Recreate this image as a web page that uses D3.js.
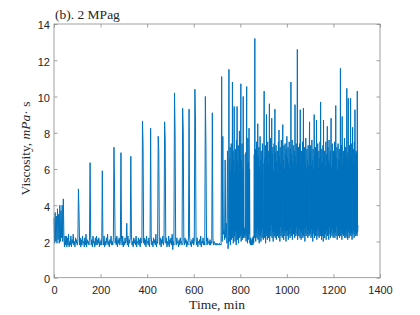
<!DOCTYPE html>
<html>
<head>
<meta charset="utf-8">
<script src="https://cdn.jsdelivr.net/npm/d3@7"></script>
<style>
  body { margin: 0; background: #fff; }
  svg { display: block; }
</style>
</head>
<body>
<script>
// viscosity log
// first part: one sample every 2.5 min from t = 0
var earlyStep = 2.5;
var viscosityEarly = [
  3.3, 1.9, 3.6, 2.0, 3.4, 1.9, 3.8, 2.1, 3.5, 1.9, 4.0, 2.0, 3.7, 2.2, 4.0, 2.0, 4.35, 2.3, 1.7, 2.3,   // 0
  1.8, 2.3, 1.7, 2.2, 1.8, 2.4, 1.7, 2.0, 1.8, 2.3, 1.7, 2.1, 1.9, 2.4, 1.8, 2.0, 1.7, 2.2, 1.9, 2.1,   // 50
  1.8, 2.0, 4.9, 3.6, 1.8, 2.2, 1.7, 2.1, 1.8, 2.3, 1.9, 2.0, 1.7, 2.2, 1.8, 2.4, 1.7, 2.1, 1.9, 2.0,   // 100
  1.8, 2.2, 6.35, 2.3, 1.8, 2.1, 1.7, 2.3, 1.9, 2.0, 1.7, 2.2, 1.8, 2.3, 1.8, 2.1, 1.9, 2.2, 1.7, 2.0,  // 150
  1.8, 2.1, 1.8, 5.9, 2.2, 1.8, 2.3, 1.7, 2.0, 1.8, 2.2, 1.9, 2.4, 1.8, 2.0, 1.7, 2.1, 1.9, 2.3, 1.8,   // 200
  2.0, 1.8, 2.2, 7.2, 5.0, 1.9, 2.2, 1.8, 2.3, 1.7, 2.1, 1.9, 2.2, 1.8, 2.0, 6.9, 2.1, 1.8, 2.3, 1.7,   // 250
  2.0, 1.8, 2.2, 1.9, 2.0, 3.0, 1.8, 2.3, 1.7, 2.1, 1.9, 2.2, 6.7, 2.4, 1.8, 2.0, 1.7, 2.2, 1.9, 2.1,   // 300
  1.8, 2.3, 1.7, 2.0, 1.9, 2.2, 1.8, 2.1, 1.7, 2.2, 1.9, 2.0, 8.65, 7.3, 1.9, 2.2, 1.8, 2.1, 1.7, 2.3,  // 350
  1.9, 2.0, 1.8, 2.2, 1.7, 2.1, 8.25, 2.3, 1.8, 2.0, 1.7, 2.2, 1.9, 2.1, 1.8, 2.4, 1.7, 2.0, 1.9, 7.8,  // 400
  7.0, 2.0, 1.8, 2.2, 1.7, 2.1, 1.9, 2.3, 1.8, 2.0, 8.6, 7.6, 1.9, 2.2, 1.7, 2.0, 1.8, 2.3, 1.7, 2.1,   // 450
  1.9, 2.2, 1.8, 2.4, 1.55, 2.0, 1.8, 10.2, 8.0, 2.1, 1.8, 2.2, 1.9, 2.0, 1.7, 2.1, 1.8, 2.2, 1.9, 2.0, // 500
  1.8, 9.35, 8.1, 2.0, 1.8, 2.2, 1.9, 2.1, 1.7, 2.0, 1.8, 2.2, 9.3, 2.3, 1.8, 2.0, 1.7, 2.1, 1.9, 2.2,  // 550
  1.8, 2.0, 10.4, 8.7, 2.1, 1.8, 2.2, 1.7, 2.0, 1.9, 2.1, 1.8, 2.3, 1.7, 2.0, 1.9, 2.2, 1.8, 2.0, 1.8,  // 600
  10.0, 7.3, 2.0, 1.8, 2.2, 1.9, 2.0, 1.8, 2.1, 1.8, 2.0, 1.9, 9.1, 2.2, 1.8, 2.0, 1.9, 1.8, 1.9, 1.8,  // 650
  1.9, 1.8, 1.85, 1.8, 1.9, 1.8, 1.85, 1.8, 11.1, 2.0, 7.8, 2.4, 2.6, 2.1, 6.5, 2.2, 3.0, 1.9, 7.0, 1.6  // 700
];

// second part: one sample every 1.25 min from t = 750
var lateStart = 750, lateStep = 1.25;
var viscosityLate = [
  2.3, 11.5, 2.0, 6.6, 2.4, 7.2, 1.8, 5.9, 2.6, 7.4, 2.1, 6.3, 2.5, 10.8, 2.2, 7.0, 1.9, 6.5, 2.7, 9.45,
  2.3, 5.8, 2.0, 7.1, 2.6, 6.2, 1.8, 7.6, 2.4, 9.45, 2.1, 6.4, 2.5, 7.3, 1.9, 5.7, 2.6, 8.1, 2.2, 6.6,   // 750
  2.3, 7.0, 10.7, 2.0, 6.5, 2.4, 7.4, 2.1, 6.0, 2.6, 10.0, 2.2, 6.8, 2.5, 2.3, 2.7, 2.2, 2.8, 2.4, 6.9,
  2.0, 7.3, 10.55, 2.3, 6.2, 1.9, 7.7, 2.5, 6.4, 2.1, 8.25, 2.4, 6.0, 1.9, 2.1, 1.8, 2.2, 1.9, 2.0, 1.8, // 800
  2.1, 1.9, 2.2, 1.8, 2.0, 2.3, 1.9, 2.4, 6.8, 2.2, 13.2, 2.6, 7.1, 2.0, 6.4, 2.5, 7.5, 2.2, 5.9, 2.7,
  8.5, 2.1, 6.7, 2.4, 7.2, 1.9, 6.1, 2.6, 7.8, 2.3, 6.5, 2.0, 7.0, 2.5, 5.8, 2.2, 7.4, 2.7, 6.3, 2.1,   // 850
  2.4, 7.1, 10.3, 2.2, 6.6, 2.5, 7.3, 1.9, 6.0, 2.6, 9.0, 2.3, 6.9, 2.1, 7.5, 2.8, 6.2, 2.2, 7.0, 2.4,
  9.6, 2.0, 6.5, 2.6, 7.7, 2.3, 6.1, 2.9, 8.8, 2.2, 6.8, 2.5, 7.2, 2.0, 5.9, 2.6, 7.4, 2.3, 6.6, 9.3,   // 900
  2.2, 6.9, 2.5, 7.3, 2.1, 6.4, 2.7, 7.0, 2.3, 5.8, 2.6, 7.5, 2.2, 8.15, 2.4, 6.7, 2.0, 7.2, 2.8, 6.3,
  2.3, 7.6, 2.5, 6.1, 2.2, 7.0, 8.45, 2.6, 6.5, 2.1, 7.3, 2.7, 6.0, 2.3, 7.4, 2.5, 6.8, 2.0, 7.1, 2.6,  // 950
  7.8, 2.3, 6.6, 2.6, 7.2, 2.1, 6.3, 2.8, 7.5, 2.4, 6.0, 2.2, 7.1, 2.7, 10.8, 2.3, 6.8, 2.5, 7.6, 2.1,
  6.4, 2.9, 7.3, 2.4, 6.1, 2.6, 7.0, 2.2, 9.55, 2.5, 6.7, 2.3, 7.4, 2.8, 6.2, 2.4, 12.6, 2.1, 6.9, 2.6, // 1000
  7.2, 2.3, 6.5, 2.7, 7.4, 2.2, 9.27, 2.5, 6.3, 2.1, 7.0, 2.6, 6.1, 2.4, 7.5, 2.2, 6.6, 9.36, 2.3, 6.9,
  2.7, 7.2, 2.0, 6.4, 2.5, 7.7, 2.3, 6.0, 2.8, 7.1, 2.4, 6.5, 2.2, 7.3, 2.6, 6.2, 2.3, 7.0, 8.6, 2.4,   // 1050
  6.8, 2.5, 7.3, 2.2, 6.2, 2.7, 7.6, 2.3, 6.5, 2.0, 7.1, 2.6, 6.0, 2.4, 9.0, 2.2, 6.7, 2.8, 7.2, 2.3,
  6.4, 2.5, 8.7, 2.1, 6.9, 2.6, 7.4, 2.3, 6.1, 2.7, 7.0, 2.2, 6.6, 2.5, 7.5, 2.3, 9.7, 2.4, 6.3, 2.1,   // 1100
  7.1, 2.6, 6.4, 2.3, 7.3, 2.0, 8.7, 2.5, 6.6, 2.2, 7.0, 2.7, 6.2, 2.4, 7.5, 2.1, 6.8, 2.6, 6.0, 8.35,
  2.3, 7.2, 2.5, 6.5, 2.1, 7.6, 2.8, 6.3, 2.4, 7.0, 2.2, 6.7, 8.8, 2.5, 6.1, 2.3, 7.4, 2.7, 6.5, 2.2,   // 1150
  7.0, 2.4, 6.3, 2.6, 7.5, 2.2, 6.8, 2.5, 9.5, 2.3, 6.6, 2.8, 7.2, 2.1, 6.0, 2.5, 7.4, 2.3, 6.5, 2.7,
  7.1, 2.2, 6.4, 2.5, 11.55, 2.3, 6.9, 2.6, 7.3, 2.1, 8.9, 2.4, 6.2, 2.8, 7.0, 2.3, 6.6, 2.5, 7.7, 2.2, // 1200
  6.8, 2.4, 7.2, 2.2, 6.5, 2.6, 10.45, 2.3, 6.9, 2.1, 7.0, 9.9, 2.5, 6.4, 2.2, 7.3, 2.7, 6.1, 2.4, 9.9,
  2.3, 6.7, 2.5, 7.4, 2.1, 6.6, 8.3, 2.4, 7.1, 2.6, 6.3, 2.2, 7.5, 2.5, 9.27, 2.3, 6.8, 2.6, 7.0, 2.4,  // 1250
  6.9, 2.3, 10.3, 2.5, 2.9                                                                               // 1300
];

var xTicks = [0, 200, 400, 600, 800, 1000, 1200, 1400];
var yTicks = [0, 2, 4, 6, 8, 10, 12, 14];
var titleText = "(b). 2 MPag";
var xLabel = "Time, min";

var points = viscosityEarly.map(function (v, i) { return [i * earlyStep, v]; })
    .concat(viscosityLate.map(function (v, i) { return [lateStart + i * lateStep, v]; }));

var W = 420, H = 315;
var mLeft = 54, mRight = 380, mTop = 24, mBottom = 277.7;

var svg = d3.select("body").append("svg")
    .attr("width", W)
    .attr("height", H);

var x = d3.scaleLinear().domain([0, 1400]).range([mLeft, mRight]);
var y = d3.scaleLinear().domain([0, 14]).range([mBottom, mTop]);

var line = d3.line()
    .x(function (d) { return x(d[0]); })
    .y(function (d) { return y(d[1]); });

svg.append("path")
    .datum(points)
    .attr("d", line)
    .attr("fill", "none")
    .attr("stroke", "#0072BD")
    .attr("stroke-width", 1)
    .attr("stroke-linejoin", "miter");

// axes, matlab style: ticks inward, box all round
var tickLen = 3.5;
var fmt = d3.format("d");
function styleAxis(g, showText) {
    g.select(".domain").remove();
    g.selectAll(".tick line").attr("stroke", "#8a8a8a").attr("stroke-width", 0.8);
    g.selectAll(".tick text")
        .attr("fill", "#262626")
        .style("font-family", "'Liberation Sans', Arial, sans-serif")
        .style("font-size", "11px");
    if (!showText) g.selectAll(".tick text").remove();
}

svg.append("g")
    .attr("transform", "translate(0," + mBottom + ")")
    .call(d3.axisBottom(x).tickValues(xTicks).tickFormat(fmt).tickSizeInner(-tickLen).tickSizeOuter(0).tickPadding(8.8))
    .call(styleAxis, true);
svg.append("g")
    .attr("transform", "translate(0," + mTop + ")")
    .call(d3.axisTop(x).tickValues(xTicks).tickSizeInner(-tickLen).tickSizeOuter(0))
    .call(styleAxis, false);
var ya = svg.append("g")
    .attr("transform", "translate(" + mLeft + ",0)")
    .call(d3.axisLeft(y).tickValues(yTicks).tickFormat(fmt).tickSizeInner(-tickLen).tickSizeOuter(0).tickPadding(4))
    .call(styleAxis, true);
ya.selectAll(".tick text").attr("dy", "0.45em");
svg.append("g")
    .attr("transform", "translate(" + mRight + ",0)")
    .call(d3.axisRight(y).tickValues(yTicks).tickSizeInner(-tickLen).tickSizeOuter(0))
    .call(styleAxis, false);

svg.append("rect")
    .attr("x", mLeft).attr("y", mTop)
    .attr("width", mRight - mLeft).attr("height", mBottom - mTop)
    .attr("fill", "none")
    .attr("stroke", "#8a8a8a")
    .attr("stroke-width", 0.8);

var serif = "'Liberation Serif', 'Times New Roman', serif";

svg.append("text")
    .attr("x", mLeft + 1).attr("y", 18.5)
    .style("font-family", serif).style("font-size", "13.5px")
    .attr("fill", "#262626")
    .text(titleText);

svg.append("text")
    .attr("x", (mLeft + mRight) / 2).attr("y", 309)
    .attr("text-anchor", "middle")
    .style("font-family", serif).style("font-size", "13.5px")
    .attr("fill", "#262626")
    .text(xLabel);

var yl = svg.append("text")
    .attr("transform", "translate(29.5," + 148.5 + ") rotate(-90)")
    .attr("text-anchor", "middle")
    .style("font-family", serif).style("font-size", "13.5px")
    .attr("fill", "#262626");
yl.append("tspan").text("Viscosity, ");
yl.append("tspan").style("font-style", "italic").text("mPa");
yl.append("tspan").text("\u00b7 s");
</script>
</body>
</html>
